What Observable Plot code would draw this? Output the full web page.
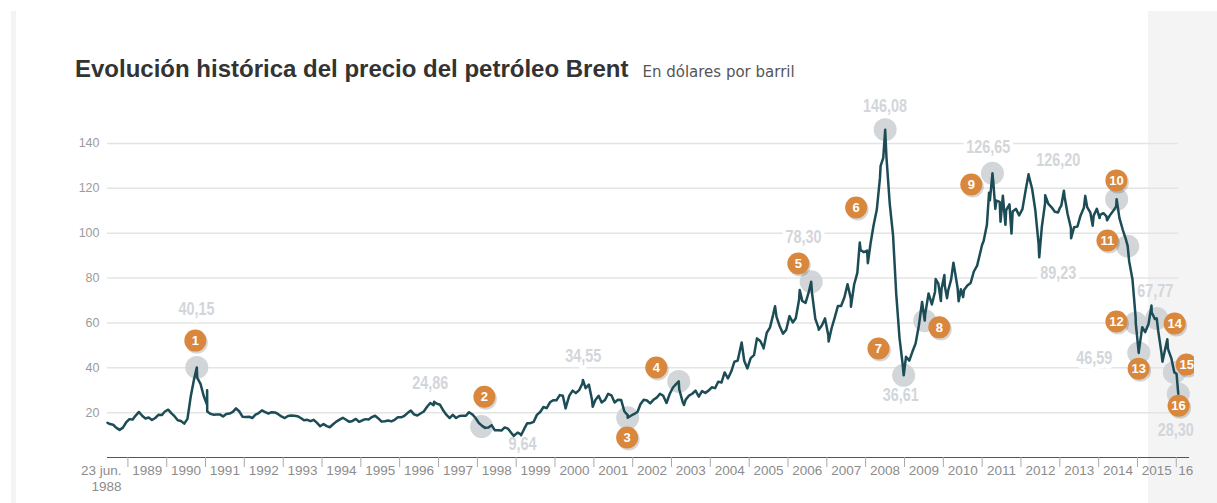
<!DOCTYPE html>
<html><head><meta charset="utf-8">
<script src="https://cdn.jsdelivr.net/npm/d3@7"></script>
<script src="https://cdn.jsdelivr.net/npm/@observablehq/plot@0.6"></script>
<style>
body{margin:0;background:#fff;font-family:"Liberation Sans",Arial,sans-serif;}
#page{position:relative;width:1217px;height:503px;overflow:hidden;background:#fff;}
#lstrip{position:absolute;left:11px;top:11px;width:5px;height:492px;background:#f4f4f4;}
#rpanel{position:absolute;left:1148px;top:11px;width:69px;height:492px;background:#f4f4f4;}
#title{position:absolute;left:75px;top:55px;white-space:nowrap;}
#title .t{font-weight:bold;font-size:24px;color:#333;font-family:"Liberation Sans",Arial,sans-serif;}
#title .s{font-size:15px;color:#555;margin-left:14px;font-family:"DejaVu Sans",sans-serif;}
#chart{position:absolute;left:0;top:90px;width:1194px;height:413px;overflow:hidden;}
#chart svg{overflow:visible;}
g[aria-label="x-axis tick"]{stroke:#aaa;}
</style></head>
<body>
<div id="page">
  <div id="lstrip"></div>
  <div id="rpanel"></div>
  <div id="title"><span class="t">Evolución histórica del precio del petróleo Brent</span><span class="s">En dólares por barril</span></div>
  <div id="chart"></div>
</div>
<script>
// Monthly Brent prices (USD/bbl)
const prices1988to1995 = [ // from Jul 1988
  14.9, 14.6, 13.2, 12.3, 13.3, 15.6,
  17.1, 16.9, 18.7, 20.3, 18.6, 17.4, 17.8, 16.7, 17.6, 19.0, 18.9, 20.5,
  21.3, 19.7, 18.4, 16.6, 16.3, 15.1, 17.2, 27.2, 34.9, 35.5, 32.8, 27.4,
  23.6, 19.5, 19.1, 19.2, 19.2, 18.3, 19.4, 19.6, 20.3, 21.9, 20.5, 18.2,
  18.0, 18.2, 17.6, 19.1, 19.8, 21.0, 20.2, 19.6, 20.2, 20.1, 19.3, 18.3,
  17.6, 18.5, 18.7, 18.6, 18.4, 17.6, 16.6, 16.8, 16.2, 16.8, 15.4, 13.9,
  14.9, 14.0, 13.5, 14.8, 16.0, 16.9, 17.7, 16.8, 15.9, 16.3, 17.2, 15.9,
  16.6, 17.1, 16.9, 18.0, 18.6, 17.4, 16.0, 16.2, 16.5, 16.1, 16.8, 17.9
];
const prices1996to2003 = [ // from Jan 1996
  17.9, 18.6, 19.8, 20.9, 19.2, 18.7, 19.6, 20.5, 22.6, 24.3, 23.3, 24.0,
  23.5, 20.9, 19.1, 17.6, 19.0, 17.6, 18.5, 18.6, 18.6, 20.2, 19.2, 17.6,
  15.4, 14.1, 13.2, 13.4, 14.4, 12.1, 12.1, 12.0, 13.4, 12.9, 11.0, 9.9,
  11.1, 10.3, 12.5, 15.3, 15.3, 15.9, 19.0, 20.3, 22.5, 22.0, 24.6, 25.5,
  25.5, 27.8, 27.5, 22.8, 27.6, 29.8, 28.7, 30.0, 33.0, 30.9, 32.5, 25.5,
  25.6, 27.5, 24.5, 25.6, 28.4, 27.7, 24.5, 25.7, 25.6, 20.5, 18.9, 18.6,
  19.4, 20.3, 23.7, 25.7, 25.4, 24.1, 25.7, 26.7, 28.4, 27.5, 24.3, 28.3,
  31.2, 32.8, 30.3, 25.0, 25.8, 27.6, 28.4, 29.8, 27.1, 29.6, 28.8, 29.8
];
const prices2004to2009 = [ // from Jan 2004
  31.3, 30.9, 33.8, 33.4, 37.9, 35.2, 38.2, 42.7, 43.2, 49.8, 43.1, 39.7,
  44.3, 45.6, 53.1, 51.9, 49.0, 55.6, 57.9, 63.8, 62.7, 58.5, 55.2, 56.9,
  63.0, 60.2, 62.1, 70.3, 69.8, 68.9, 73.7, 73.2, 61.8, 57.8, 58.8, 62.0,
  54.5, 57.6, 62.1, 67.5, 67.5, 71.3, 77.2, 70.8, 77.1, 82.3, 92.5, 91.5,
  92.2, 94.9, 103.3, 110.4, 124.6, 133.5, 133.9, 113.0, 99.1, 72.8, 53.2, 41.3,
  44.9, 43.2, 47.0, 50.8, 58.6, 69.3, 64.0, 73.1, 68.2, 73.9, 77.5, 75.2
];
const prices2010to2015 = [ // from Jan 2010
  76.4, 74.3, 79.3, 84.3, 75.6, 75.0, 74.7, 76.7, 77.8, 82.9, 85.5, 91.5,
  96.5, 103.7, 114.6, 123.3, 114.5, 113.9, 116.7, 110.2, 112.8, 109.6, 110.8, 107.9,
  110.7, 119.3, 125.5, 119.8, 110.3, 95.2, 102.6, 113.4, 113.0, 111.5, 109.5, 109.2,
  112.3, 116.1, 108.5, 102.3, 102.6, 102.9, 107.9, 111.3, 111.6, 109.1, 107.8, 110.8,
  108.1, 108.9, 107.5, 107.8, 109.7, 111.9, 106.8, 101.6, 97.1, 87.4, 79.4, 62.3,
  47.8, 58.1, 55.9, 59.5, 64.6, 61.7, 56.5, 46.5, 47.6, 48.4, 44.3, 38.0
];
// Daily extremes and key days
const extremeDates = ["1988-06-23","1990-10-11","1991-01-16","1991-01-17","1996-11-20","1998-12-10","1999-02-16","2000-04-10","2000-09-20","2000-12-21","2001-11-15","2003-03-10","2003-04-29","2004-10-22","2005-05-16","2005-09-01","2006-04-21","2006-08-07","2006-10-17","2007-01-18","2007-08-16","2007-11-07","2008-01-22","2008-05-21","2008-07-03","2008-12-24","2009-07-10","2009-10-21","2009-12-09","2010-01-11","2010-02-05","2010-04-06","2010-05-25","2010-07-06","2010-12-31","2011-03-07","2011-04-08","2011-05-05","2011-06-23","2011-08-08","2011-10-04","2012-03-13","2012-06-21","2012-08-16","2012-12-31","2013-02-08","2013-04-17","2013-08-28","2013-11-06","2014-01-10","2014-03-21","2014-06-19","2014-10-01","2014-12-16","2015-01-13","2015-05-13","2015-07-01","2015-08-24","2015-10-09","2015-12-14","2016-01-04","2016-01-20"];
const extremePrices = [15.5, 40.15, 30.0, 20.5, 24.86, 9.64, 9.9, 21.9, 34.55, 22.6, 17.7, 33.9, 23.4, 51.3, 48.6, 67.4, 74.6, 78.30, 56.9, 51.7, 67.2, 95.8, 86.6, 130.0, 146.08, 36.61, 61.0, 79.5, 69.7, 81.3, 71.0, 86.8, 69.6, 71.5, 94.7, 118.0, 126.65, 110.8, 105.1, 103.7, 99.8, 126.20, 89.23, 116.9, 111.1, 118.9, 97.7, 116.6, 103.3, 106.7, 105.7, 115.1, 94.2, 59.9, 46.59, 67.77, 62.0, 42.7, 52.7, 37.9, 37.2, 28.30];

// Highlighted points (grey circles)
const markerDates = ["1990-10-11","1998-02-10","2001-11-15","2003-03-10","2006-08-07","2008-07-03","2008-12-24","2009-07-10","2011-04-08","2014-06-19","2014-10-01","2014-12-16","2015-01-13","2015-07-01","2015-12-14","2016-01-20"];
const markerPrices = [40.15, 13.8, 17.7, 33.9, 78.3, 146.08, 36.61, 61.0, 126.65, 115.1, 94.2, 59.9, 46.59, 62.0, 37.9, 28.3];

// Numbered badges (anchor in chart coordinates)
const badgeNumbers = ["1","2","3","4","5","6","7","8","9","10","11","12","13","14","15","16"];
const badgeDates = ["1990-09-27","1998-03-08","2001-11-10","2002-08-11","2006-04-08","2007-10-04","2008-05-01","2009-11-24","2010-09-21","2014-06-17","2014-03-25","2014-06-17","2015-01-12","2015-12-17","2016-04-08","2016-01-23"];
const badgePrices = [52.1, 27.1, 8.9, 40.1, 86.5, 111.4, 48.6, 58.0, 121.7, 123.5, 96.7, 60.6, 39.6, 59.7, 41.4, 23.1];

// Value labels
const valueLabels = ["40,15","24,86","9,64","34,55","78,30","146,08","36,61","126,65","126,20","89,23","67,77","46,59","28,30"];
const valueLabelDates = ["1990-10-08","1996-10-15","1999-03-01","2000-09-24","2006-05-26","2008-07-01","2008-11-27","2011-02-28","2012-12-17","2012-12-17","2015-06-17","2013-11-21","2015-12-28"];
const valueLabelPrices = [66.3, 32.9, 5.7, 45.0, 98.1, 156.5, 27.6, 138.2, 132.4, 82.0, 74.3, 44.1, 12.0];

const yTicks = [20, 40, 60, 80, 100, 120, 140];
const yearLabels = ["1989","1990","1991","1992","1993","1994","1995","1996","1997","1998","1999","2000","2001","2002","2003","2004","2005","2006","2007","2008","2009","2010","2011","2012","2013","2014","2015"];
const lastYearLabel = "16";
const firstDateLabel = ["23 jun.", "1988"];

const D = s => new Date(s + "T00:00:00Z");
const monthly = (y, m, vals) => vals.map((v, i) => ({date: new Date(Date.UTC(y, m - 1 + i, 15)), price: v}));
const series = [
  ...monthly(1988, 7, prices1988to1995),
  ...monthly(1996, 1, prices1996to2003),
  ...monthly(2004, 1, prices2004to2009),
  ...monthly(2010, 1, prices2010to2015),
  ...extremeDates.map((d, i) => ({date: D(d), price: extremePrices[i]}))
].sort((a, b) => a.date - b.date);

const markers = markerDates.map((d, i) => ({date: D(d), price: markerPrices[i]}));
const badges = badgeNumbers.map((n, i) => ({n, date: D(badgeDates[i]), price: badgePrices[i]}));
const labels = valueLabels.map((t, i) => ({t, date: D(valueLabelDates[i]), price: valueLabelPrices[i]}));
const yearTickDates = d3.utcYear.range(D("1989-01-01"), D("2016-01-02"));
const yearLabelData = yearLabels.map(y => ({y, date: new Date(Date.UTC(+y, 6, 2))}));
const startDate = D("1988-06-23");
const noHaloFrom = D("2015-03-01");

const chart = Plot.plot({
  width: 1194, height: 413,
  marginLeft: 107, marginRight: 16, marginTop: 8, marginBottom: 46,
  x: {type: "utc", domain: [startDate, D("2016-01-22")]},
  y: {domain: [0, 160], axis: null},
  style: {background: "transparent", fontFamily: "'Liberation Sans',Arial,sans-serif", overflow: "visible"},
  marks: [
    Plot.ruleY(yTicks, {stroke: "#e4e4e4", strokeWidth: 1.5}),
    Plot.text(yTicks, {y: d => d, frameAnchor: "left", dx: -8, textAnchor: "end", text: d => String(d), fill: "#9b9b9b", fontSize: 12.5}),
    Plot.text(labels, {x: "date", y: "price", text: "t", fill: "#d2d6da", fontSize: 18, fontWeight: "bold",
      fontFamily: "vlabel, 'Liberation Sans', sans-serif",
      stroke: d => d.date >= noHaloFrom ? "none" : "white", strokeWidth: 9, paintOrder: "stroke"}),
    Plot.dot(markers, {x: "date", y: "price", r: 11.5, fill: "#cdd1d5", fillOpacity: 0.9}),
    Plot.line(series, {x: "date", y: "price", stroke: "#1c4c55", strokeWidth: 2.5, strokeLinejoin: "round"}),
    Plot.ruleY([0], {stroke: "#555", strokeWidth: 1, insetRight: -11}),
    Plot.axisX(yearTickDates, {tickSize: 10, tickFormat: () => "", label: null, stroke: "#aaa"}),
    Plot.text(yearLabelData, {x: "date", text: "y", frameAnchor: "bottom", dy: 17, fill: "#8c8c8c", fontSize: 13.5}),
    Plot.text([lastYearLabel], {x: () => D("2016-01-01"), text: d => d, frameAnchor: "bottom", dy: 17, dx: 2, textAnchor: "start", fill: "#8c8c8c", fontSize: 13.5}),
    Plot.text([firstDateLabel[0]], {x: () => startDate, text: d => d, frameAnchor: "bottom", dy: 17, dx: 14, textAnchor: "end", fill: "#8c8c8c", fontSize: 13.5}),
    Plot.text([firstDateLabel[1]], {x: () => startDate, text: d => d, frameAnchor: "bottom", dy: 33, dx: 14, textAnchor: "end", fill: "#8c8c8c", fontSize: 13.5}),
    Plot.dot(badges, {x: "date", y: "price", r: 11, fill: "#000", fillOpacity: 0.16, dx: 1.5, dy: 2}),
    Plot.dot(badges, {x: "date", y: "price", r: 11, fill: "#d8873c"}),
    Plot.text(badges, {x: "date", y: "price", text: "n", fill: "white", fontWeight: "bold", fontSize: 13})
  ]
});
// condense the value labels horizontally (display-style narrow figures)
chart.querySelectorAll('g[font-family^="vlabel"] text').forEach(t => {
  const tr = t.getAttribute("transform") || "";
  t.setAttribute("transform", tr + " scale(0.8,1)");
});
document.getElementById("chart").appendChild(chart);
</script>
</body></html>
